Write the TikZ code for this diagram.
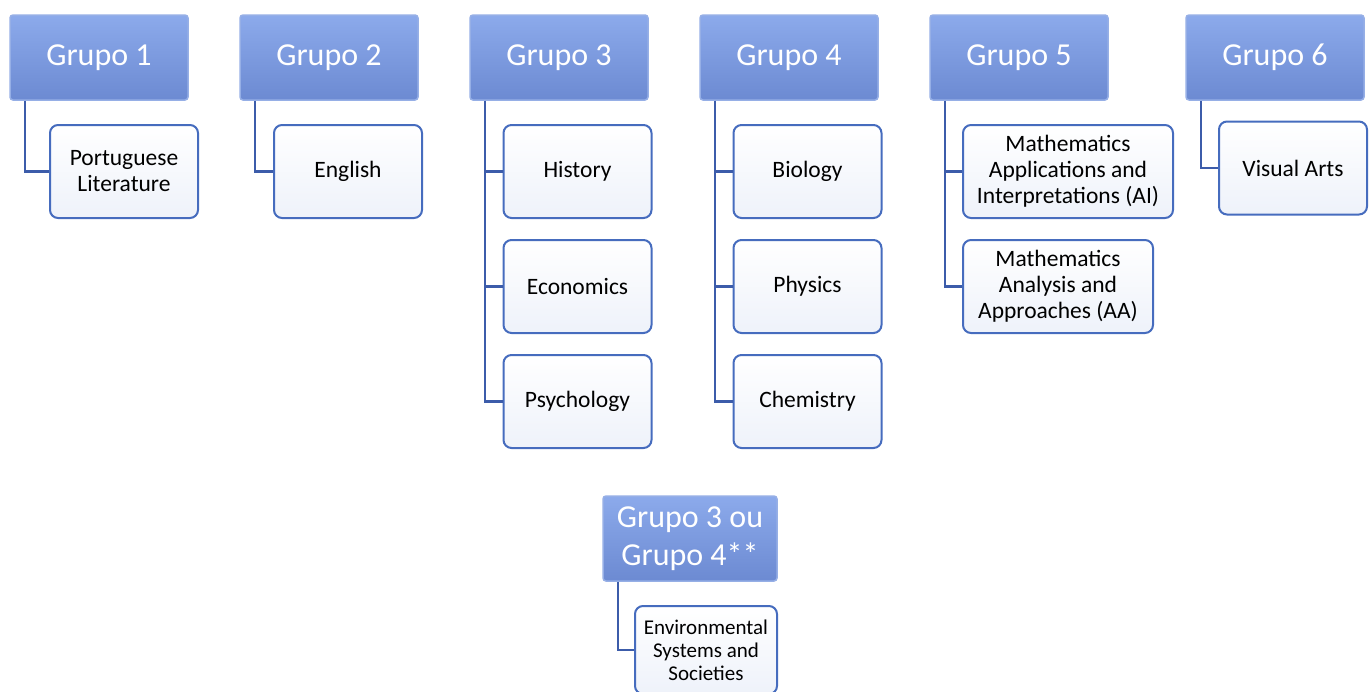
\documentclass[tikz,border=0pt]{standalone}
\usepackage{fontspec}
\setmainfont{Carlito}
\definecolor{hdrtop}{RGB}{140,170,235}
\definecolor{hdrbot}{RGB}{108,138,210}
\definecolor{hdredge}{RGB}{150,175,230}
\definecolor{boxedge}{RGB}{70,108,190}
\definecolor{boxfill}{RGB}{238,242,250}
\definecolor{linkblue}{RGB}{60,92,170}
\begin{document}
\begin{tikzpicture}[x=1pt, y=-1pt,
            grupo/.style={rectangle, draw=hdredge, line width=1.5pt, top color=hdrtop, bottom color=hdrbot,
                rounded corners=3pt, minimum width=178pt, minimum height=85pt, text=white,
                font=\fontsize{32}{38}\selectfont, align=center},
            subject/.style={rectangle, draw=boxedge, line width=2pt, top color=white, bottom color=boxfill,
                rounded corners=8pt, minimum width=148pt, minimum height=93pt,
                font=\fontsize{23.5}{26}\selectfont, align=center},
            link/.style={draw=linkblue, line width=2.2pt}]
            \useasboundingbox (0,0) rectangle (1371,691);

            % group headers
            \node[grupo] (g1) at (99,57.5) {Grupo 1};
            \node[grupo] (g2) at (329,57.5) {Grupo 2};
            \node[grupo] (g3) at (559,57.5) {Grupo 3};
            \node[grupo] (g4) at (789,57.5) {Grupo 4};
            \node[grupo] (g5) at (1019,57.5) {Grupo 5};
            \node[grupo] (g6) at (1275,57.5) {Grupo 6};
            \node[grupo, minimum width=174pt] (g34) at (690,538.5) {Grupo 3 ou\\Grupo 4**};

            % subjects
            \node[subject] (portuguese) at (124,171.5) {Portuguese\\Literature};
            \node[subject] (english) at (348,171.5) {English};
            \node[subject] (history) at (577.5,171.5) {History};
            \node[subject] (economics) at (577.5,286.5) {Economics};
            \node[subject] (psychology) at (577.5,401.5) {Psychology};
            \node[subject] (biology) at (807.5,171.5) {Biology};
            \node[subject] (physics) at (807.5,286.5) {Physics};
            \node[subject] (chemistry) at (807.5,401.5) {Chemistry};
            \node[subject, minimum width=210pt] (mathai) at (1068,171.5) {Mathematics\\Applications and\\Interpretations (AI)};
            \node[subject, minimum width=190pt] (mathaa) at (1058,286.5) {Mathematics\\Analysis and\\Approaches (AA)};
            \node[subject] (arts) at (1293,168) {Visual Arts};
            \node[subject, minimum width=142pt, minimum height=88pt, font=\fontsize{21}{23}\selectfont]
                (ess) at (706,650) {Environmental\\Systems and\\Societies};

            % connectors
            \draw[link] ([xshift=16pt]g1.south west) |- (portuguese.west);
            \draw[link] ([xshift=16pt]g2.south west) |- (english.west);
            \draw[link] ([xshift=16pt]g3.south west) |- (history.west);
            \draw[link] ([xshift=16pt]g3.south west) |- (economics.west);
            \draw[link] ([xshift=16pt]g3.south west) |- (psychology.west);
            \draw[link] ([xshift=16pt]g4.south west) |- (biology.west);
            \draw[link] ([xshift=16pt]g4.south west) |- (physics.west);
            \draw[link] ([xshift=16pt]g4.south west) |- (chemistry.west);
            \draw[link] ([xshift=16pt]g5.south west) |- (mathai.west);
            \draw[link] ([xshift=16pt]g5.south west) |- (mathaa.west);
            \draw[link] ([xshift=16pt]g6.south west) |- (arts.west);
            \draw[link] ([xshift=16pt]g34.south west) |- (ess.west);
        \end{tikzpicture}
\end{document}
